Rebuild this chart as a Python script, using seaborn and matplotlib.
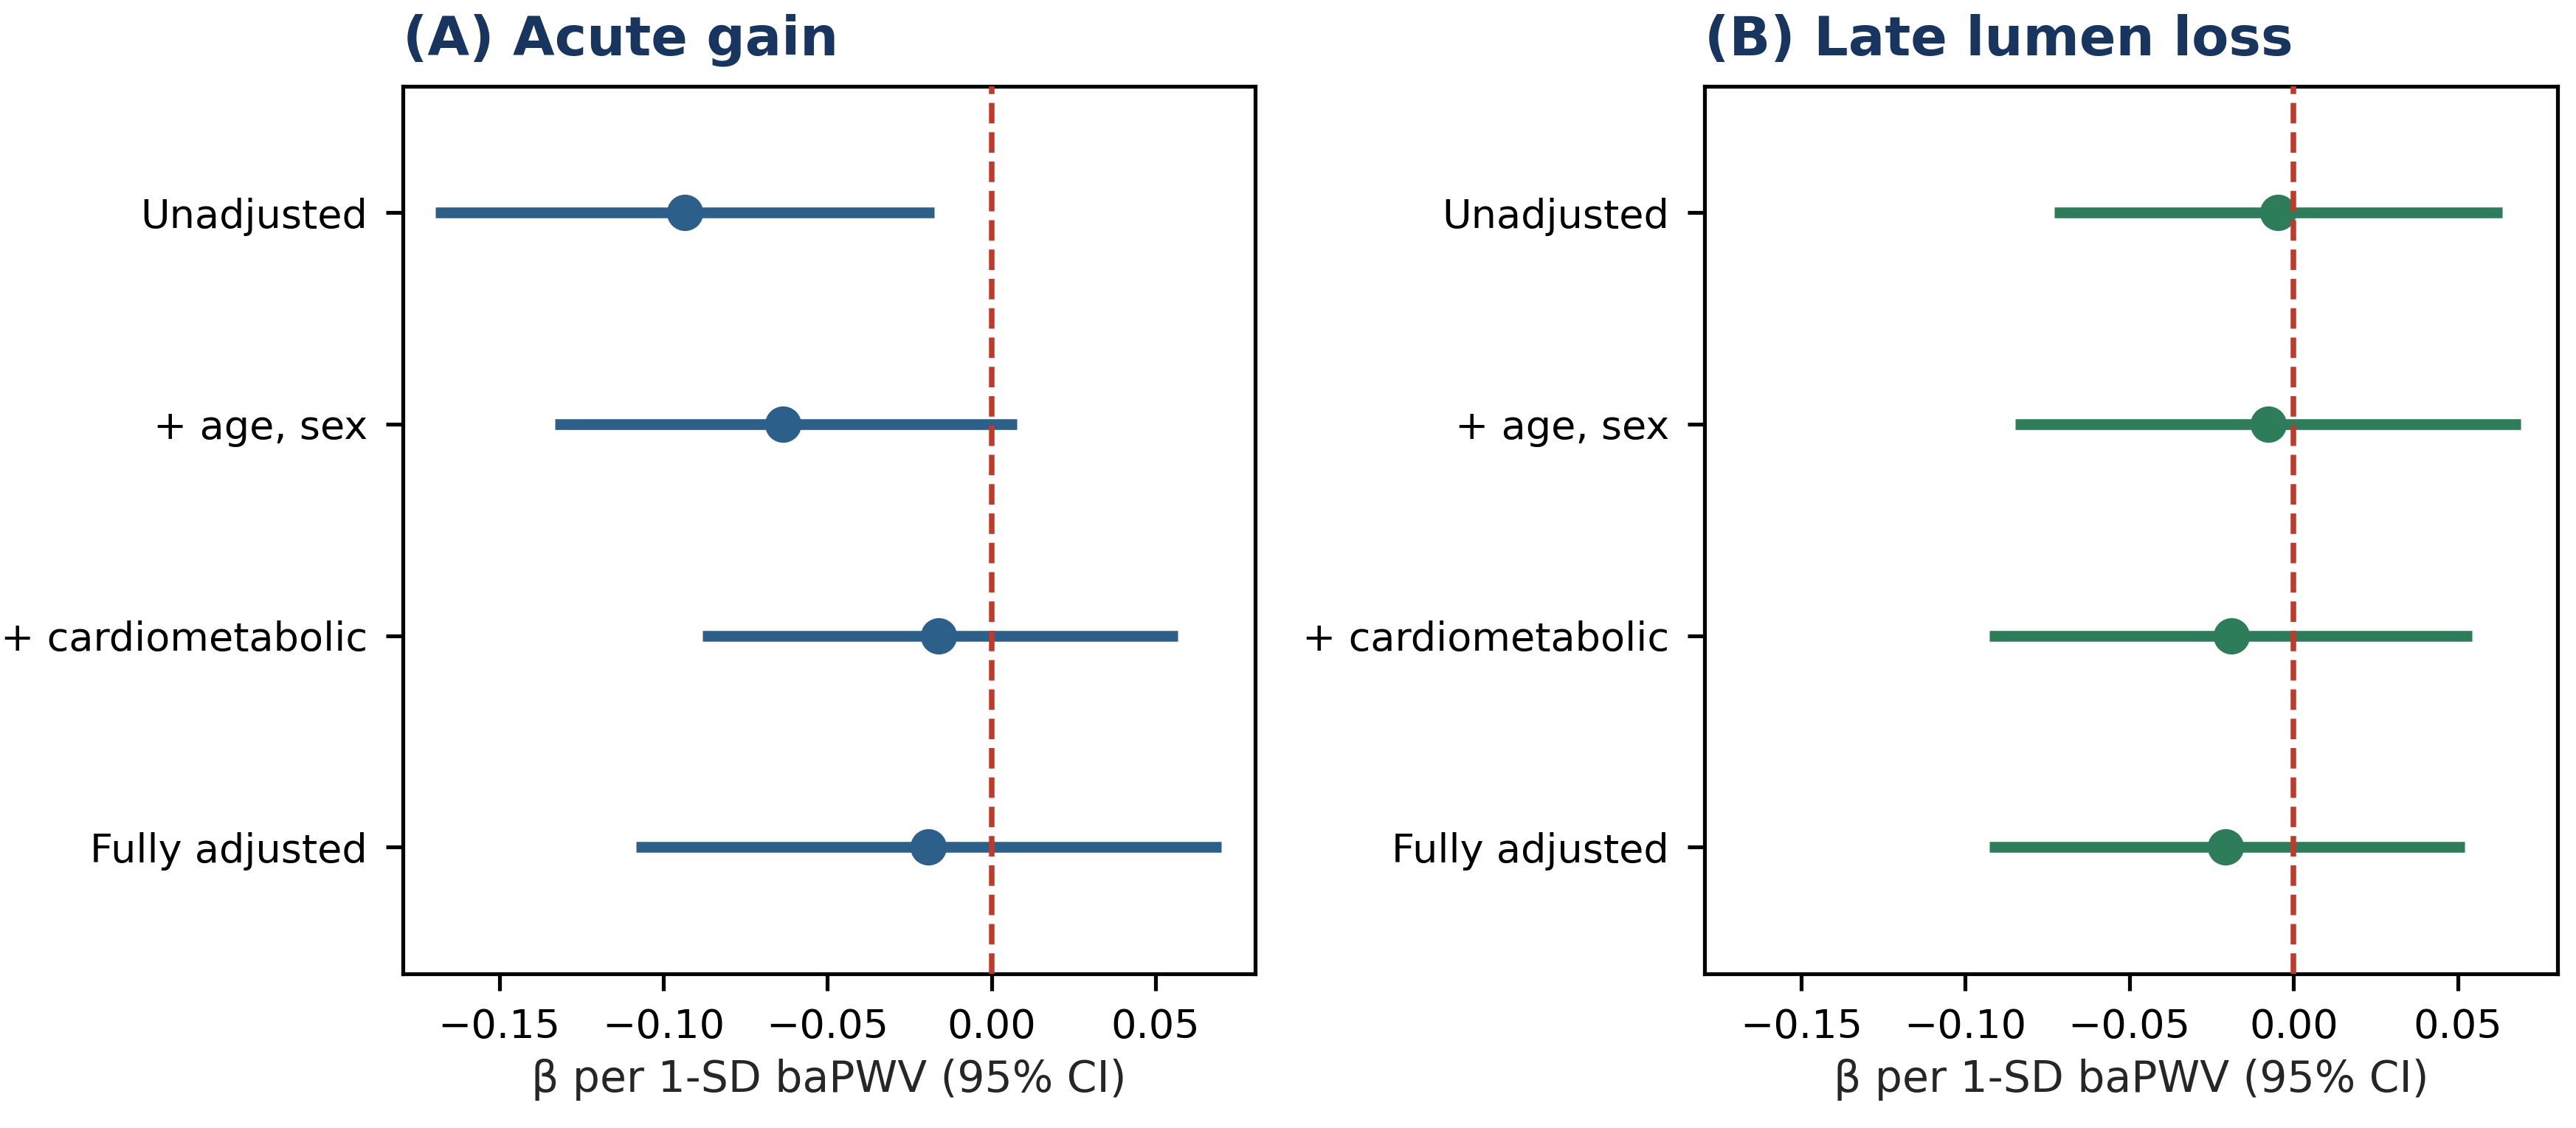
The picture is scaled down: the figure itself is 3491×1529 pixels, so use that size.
import matplotlib
matplotlib.use("Agg")
import matplotlib.pyplot as plt
import seaborn as sns
import pandas as pd

# ---- data ----
models = ["Unadjusted", "+ age, sex", "+ cardiometabolic", "Fully adjusted"]

acute_beta = [-0.0935, -0.0635, -0.0162, -0.0192]
acute_lo = [-0.1694, -0.1330, -0.0881, -0.1083]
acute_hi = [-0.0175, 0.0078, 0.0568, 0.0700]

lll_beta = [-0.0047, -0.0078, -0.0190, -0.0208]
lll_lo = [-0.0728, -0.0848, -0.0926, -0.0926]
lll_hi = [0.0635, 0.0691, 0.0543, 0.0521]

panel_titles = ["(A) Acute gain", "(B) Late lumen loss"]
xlabel = "β per 1-SD baPWV (95% CI)"
xticks = [-0.15, -0.10, -0.05, 0.00, 0.05]

colors = ["#2c5f8a", "#2e7d5a"]
title_color = "#17355e"
ref_color = "#c0392b"

sns.set_style("ticks")
plt.rcParams["font.family"] = ["DejaVu Sans"]
plt.rcParams.update({
    "axes.edgecolor": "black",
    "axes.linewidth": 1.25,
    "xtick.major.size": 5.5,
    "ytick.major.size": 5.5,
    "xtick.major.width": 1.25,
    "ytick.major.width": 1.25,
    "xtick.major.pad": 5.5,
    "ytick.major.pad": 6,
    "xtick.color": "black",
    "ytick.color": "black",
    "xtick.labelsize": 13,
    "ytick.labelsize": 13,
})

fig = plt.figure(figsize=(3491 / 300, 1529 / 300), dpi=300)
axA = fig.add_axes([546 / 3491, 1 - 1320 / 1529, (1701 - 546) / 3491, (1320 - 116.5) / 1529])
axB = fig.add_axes([2310 / 3491, 1 - 1320 / 1529, (3466 - 2310) / 3491, (1320 - 116.5) / 1529])

panels = [
    (axA, acute_beta, acute_lo, acute_hi),
    (axB, lll_beta, lll_lo, lll_hi),
]

for i, (ax, beta, lo, hi) in enumerate(panels):
    df = pd.DataFrame({"model": models, "beta": beta, "lo": lo, "hi": hi})
    ax.hlines(y=df["model"], xmin=df["lo"], xmax=df["hi"], color=colors[i],
              linewidth=3.5, zorder=2)
    sns.scatterplot(data=df, x="beta", y="model", ax=ax, color=colors[i],
                    s=140, linewidth=0, zorder=3, legend=False)
    ax.axvline(0, color=ref_color, linestyle="--", linewidth=1.8, zorder=4)
    ax.set_xlim(-0.1794, 0.0804)
    ax.set_ylim(3.6, -0.6)
    ax.set_xticks(xticks)
    ax.set_xlabel(xlabel, fontsize=14, labelpad=4)
    ax.set_ylabel("")
    ax.set_title(panel_titles[i], loc="left", fontsize=17.6, fontweight="bold",
                 color=title_color, pad=10)
    for sp in ax.spines.values():
        sp.set_visible(True)
        sp.set_color("black")
        sp.set_linewidth(1.25)

fig.savefig("out.png", dpi=300)
